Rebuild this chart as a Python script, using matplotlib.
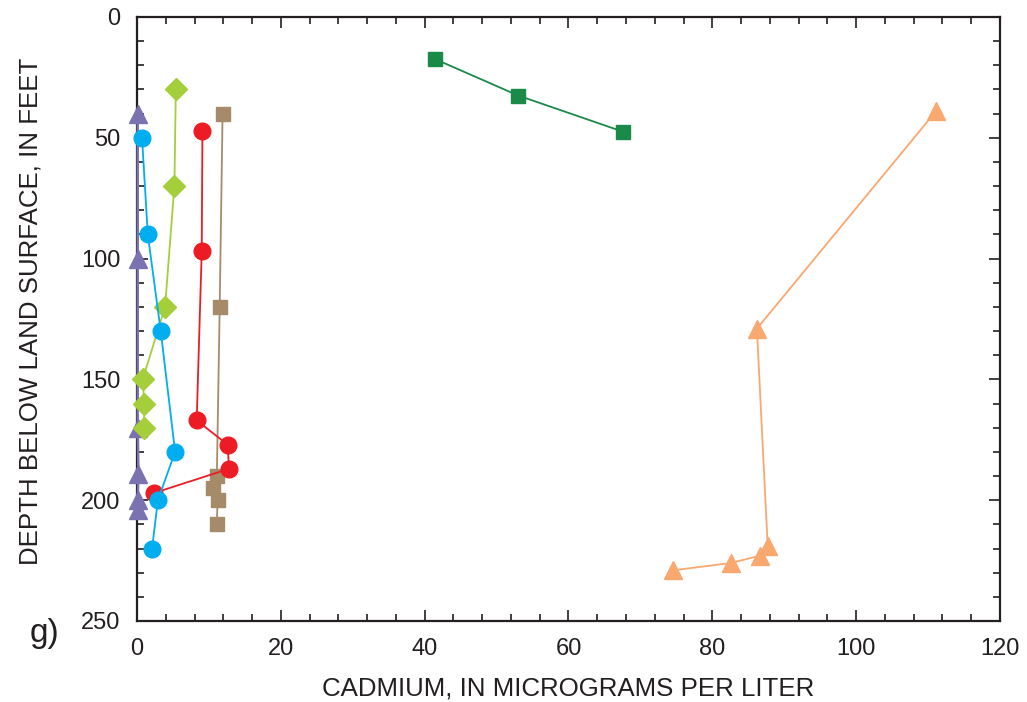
import matplotlib
matplotlib.use("Agg")
import matplotlib.pyplot as plt
from matplotlib.ticker import MultipleLocator

plt.rcParams['font.family'] = ['Liberation Sans', 'DejaVu Sans']

purple_x = [0.1, 0.1, 0.1, 0.2, 0.1, 0.2]
purple_y = [40, 100, 170, 189, 200, 204]

blue_x = [0.7, 1.5, 3.3, 5.3, 2.9, 2.1]
blue_y = [50, 90, 130, 180, 200, 220]

lime_x = [5.4, 5.2, 3.9, 0.8, 1.0, 1.0]
lime_y = [30, 70, 120, 150, 160, 170]

red_x = [9.1, 9.0, 8.3, 12.6, 12.8, 2.4]
red_y = [47, 97, 167, 177, 187, 197]

brown_x = [11.9, 11.5, 11.1, 10.5, 11.2, 11.1]
brown_y = [40, 120, 190, 195, 200, 210]

dkgreen_x = [41.5, 53.0, 67.6]
dkgreen_y = [17.5, 32.5, 47.5]

orange_x = [111.1, 86.2, 87.7, 86.6, 82.6, 74.6]
orange_y = [39, 129, 219, 223, 226, 229]

fig = plt.figure(figsize=(10.27, 7.02), dpi=100)
ax = fig.add_axes([0.1334, 0.1154, 0.8403, 0.8604])

lw = 1.3
ax.plot(purple_x, purple_y, color='#7B72B1', marker='^', ms=12.5, lw=1.8, zorder=6, clip_on=False)
ax.plot(orange_x, orange_y, color='#F9A86F', marker='^', ms=12.5, lw=lw, zorder=3)
ax.plot(dkgreen_x, dkgreen_y, color='#198A48', marker='s', ms=10, lw=lw, zorder=3)
ax.plot(brown_x, brown_y, color='#A68B6B', marker='s', ms=10, lw=lw, zorder=3)
ax.plot(red_x, red_y, color='#ED1C24', marker='o', ms=12, lw=lw, zorder=4)
ax.plot(lime_x, lime_y, color='#A4CF3A', marker='D', ms=11.5, lw=lw, zorder=7, clip_on=False)
ax.plot(blue_x, blue_y, color='#00AEEF', marker='o', ms=12, lw=lw, zorder=8, clip_on=False)

ax.set_xlim(0, 120)
ax.set_ylim(250, 0)
ax.xaxis.set_major_locator(MultipleLocator(20))
ax.xaxis.set_minor_locator(MultipleLocator(4))
ax.yaxis.set_major_locator(MultipleLocator(50))
ax.yaxis.set_minor_locator(MultipleLocator(10))
ax.tick_params(which='both', direction='in', top=True, right=True, width=1.2, color='#231F20')
ax.tick_params(which='major', length=8, labelsize=17, pad=12, labelcolor='#231F20')
ax.tick_params(which='minor', length=5)
for s in ax.spines.values():
    s.set_linewidth(1.6)
    s.set_color('#231F20')

ax.set_xlabel('CADMIUM, IN MICROGRAMS PER LITER', fontsize=18.6, color='#231F20', labelpad=12)
ax.set_ylabel('DEPTH BELOW LAND SURFACE, IN FEET', fontsize=18.6, color='#231F20', labelpad=28)
ax.yaxis.label.set_y(0.513)
fig.text(0.029, 0.085, 'g)', fontsize=24, color='#231F20')

fig.savefig('out.png', dpi=100)
